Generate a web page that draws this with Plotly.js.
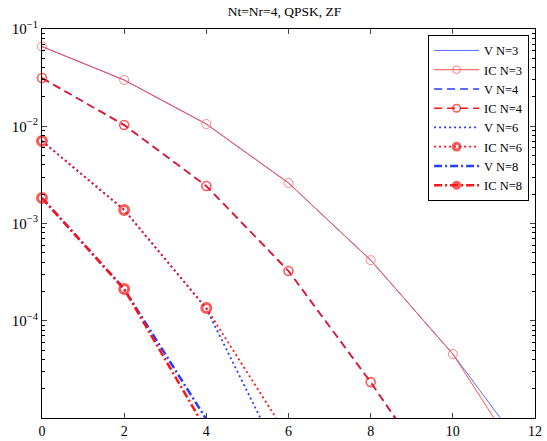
<!DOCTYPE html>
<html>
<head>
<meta charset="utf-8">
<script src="https://cdn.plot.ly/plotly-3.0.1.min.js"></script>
<style>html,body{margin:0;padding:0;background:#fff;}#chart{width:547px;height:441px;}</style>
</head>
<body>
<div id="chart"></div>
<script>
// SNR points
const x3 = [0, 2, 4, 6, 8, 10, 12];
const x4 = [0, 2, 4, 6, 8, 10];
const x6 = [0, 2, 4, 6];
const x8 = [0, 2, 4];

const vN3  = [0.066, 0.0299, 0.01054, 0.00261, 4.2e-4, 4.55e-5, 3.3e-6];
const icN3 = [0.066, 0.0299, 0.01054, 0.00261, 4.2e-4, 4.55e-5, 2.2e-6];
const vN4  = [0.0313, 0.0103, 0.00243, 3.25e-4, 2.34e-5, 1.3e-6];
const icN4 = [0.0313, 0.0103, 0.00243, 3.25e-4, 2.34e-5, 1.4e-6];
const vN6  = [0.00705, 0.00138, 1.33e-4, 2.6e-6];
const icN6 = [0.00705, 0.00138, 1.35e-4, 6.3e-6];
const vN8  = [0.00183, 2.12e-4, 9.7e-6];
const icN8 = [0.00183, 2.12e-4, 7.5e-6];

const names = ['V N=3', 'IC N=3', 'V N=4', 'IC N=4', 'V N=6', 'IC N=6', 'V N=8', 'IC N=8'];
const yTickVals = [1e-4, 1e-3, 1e-2, 1e-1];
const yTickText = ['10<sup>\u22124</sup>', '10<sup>\u22123</sup>', '10<sup>\u22122</sup>', '10<sup>\u22121</sup>'];
const xTickVals = [0, 2, 4, 6, 8, 10, 12];

const YMIN = 1e-5;
function msize(ys, s) { return ys.map(v => v >= YMIN ? s : 0); }

const BLUE = 'rgb(40,60,255)';
const RED = 'rgb(255,20,20)';

const traces = [
  {x: x3, y: vN3, name: names[0], mode: 'lines', line: {color: 'rgb(90,110,255)', width: 1}},
  {x: x3, y: icN3, name: names[1], mode: 'lines+markers', line: {color: 'rgb(255,80,80)', width: 1},
   marker: {symbol: 'circle-open', size: msize(icN3, 9), color: 'rgb(255,80,80)', line: {width: 1}}},
  {x: x4, y: vN4, name: names[2], mode: 'lines', line: {color: BLUE, width: 1.6, dash: '8px,5px'}},
  {x: x4, y: icN4, name: names[3], mode: 'lines+markers', line: {color: RED, width: 1.6, dash: '8px,5px'},
   marker: {symbol: 'circle-open', size: msize(icN4, 9), color: RED, line: {width: 1.6}}},
  {x: x6, y: vN6, name: names[4], mode: 'lines', line: {color: BLUE, width: 1.8, dash: '2px,3px'}},
  {x: x6, y: icN6, name: names[5], mode: 'lines+markers', line: {color: RED, width: 1.8, dash: '2px,3px'},
   marker: {symbol: 'circle-open', size: msize(icN6, 9), color: RED, line: {width: 3}}},
  {x: x8, y: vN8, name: names[6], mode: 'lines', line: {color: BLUE, width: 2.5, dash: '8px,3px,2px,3px'}},
  {x: x8, y: icN8, name: names[7], mode: 'lines+markers', line: {color: RED, width: 2.5, dash: '8px,3px,2px,3px'},
   marker: {symbol: 'circle-open', size: msize(icN8, 9), color: RED, line: {width: 3}}}
];
traces.forEach(t => { t.cliponaxis = false; t.type = 'scatter'; });

const minorVals = [];
for (let e = -5; e < -1; e++) {
  for (let k = 2; k <= 9; k++) minorVals.push(k * Math.pow(10, e));
}

const serif = 'Liberation Serif, Times New Roman, serif';

const layout = {
  width: 547, height: 441,
  margin: {l: 42, r: 12, t: 29, b: 23},
  paper_bgcolor: '#fff', plot_bgcolor: '#fff',
  font: {family: serif, size: 13, color: '#000'},
  title: {text: 'Nt=Nr=4, QPSK, ZF', font: {family: serif, size: 13.5, color: '#000'},
          x: 0.52, xanchor: 'center', y: 0.985, yanchor: 'top'},
  showlegend: true,
  legend: {x: 0.988, xanchor: 'right', y: 0.985, yanchor: 'top',
           bgcolor: '#fff', bordercolor: '#000', borderwidth: 1, itemwidth: 45,
           font: {family: serif, size: 12.5, color: '#000'}, tracegroupgap: 0},
  xaxis: {range: [0, 12], tickmode: 'array', tickvals: xTickVals, ticks: 'inside', ticklen: 5,
          showline: true, linecolor: '#000', linewidth: 1, mirror: 'allticks', showgrid: false, zeroline: false,
          tickfont: {family: serif, size: 14, color: '#000'}},
  yaxis: {type: 'log', range: [-5, -1], tickmode: 'array', tickvals: yTickVals, ticktext: yTickText,
          ticks: 'inside', ticklen: 5, showline: true, linecolor: '#000', linewidth: 1, mirror: 'allticks',
          showgrid: false, zeroline: false, tickfont: {family: serif, size: 15, color: '#000'},
          minor: {tickmode: 'array', tickvals: minorVals, ticks: 'inside', ticklen: 3, tickcolor: '#000', showgrid: false}}
};

Plotly.newPlot('chart', traces, layout, {staticPlot: true, displayModeBar: false});
</script>
</body>
</html>
